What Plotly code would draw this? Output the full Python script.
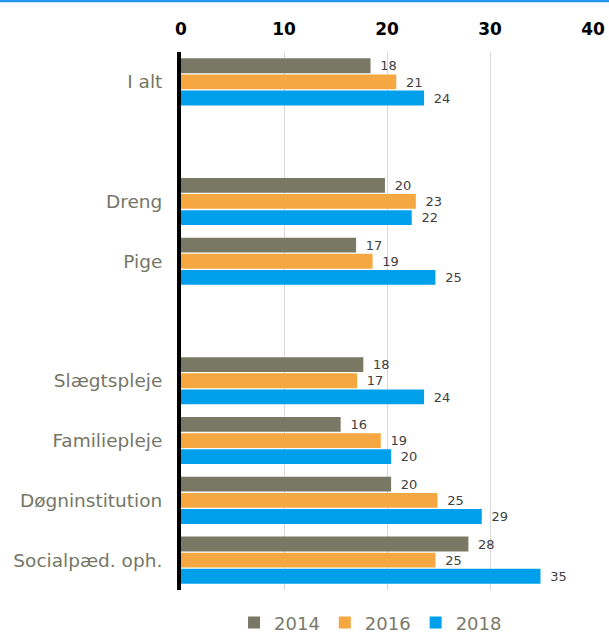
import plotly.graph_objects as go

categories = ["I alt", "Dreng", "Pige", "Slægtspleje", "Familiepleje", "Døgninstitution", "Socialpæd. oph."]
slots = ["I alt", " ", "Dreng", "Pige", "  ", "Slægtspleje", "Familiepleje", "Døgninstitution", "Socialpæd. oph."]
years = ["2014", "2016", "2018"]
v2014 = [18.4, 19.8, 17.0, 17.7, 15.5, 20.4, 27.9]
v2016 = [20.9, 22.8, 18.6, 17.1, 19.4, 24.9, 24.7]
v2018 = [23.6, 22.4, 24.7, 23.6, 20.4, 29.2, 34.9]
colors = ["#787865", "#F5A742", "#009FEC"]
x_ticks = [0, 10, 20, 30, 40]

fig = go.Figure()
for name, vals, col in zip(years, [v2014, v2016, v2018], colors):
    fig.add_trace(go.Bar(
        y=categories, x=vals, name=name, orientation="h",
        marker=dict(color=col, line=dict(width=0)),
        texttemplate="\u00a0\u2009%{x:.0f}", textposition="outside",
        textfont=dict(family="DejaVu Sans", size=14, color="#404040"),
        cliponaxis=False,
    ))

fig.update_layout(
    width=609, height=633,
    margin=dict(l=181, r=16, t=52, b=43, autoexpand=False),
    paper_bgcolor="white", plot_bgcolor="white",
    barmode="group", bargap=0.19, bargroupgap=0.08,
    showlegend=True,
    legend=dict(orientation="h", x=0.46, xanchor="center", y=-0.061, yanchor="middle",
                font=dict(family="DejaVu Sans", size=18, color="#7a7a6a"),
                itemwidth=30, tracegroupgap=0),
    xaxis=dict(side="top", range=[0, 40], tickvals=x_ticks, automargin=False,
               tickfont=dict(family="DejaVu Sans", size=17, color="black", weight="bold"),
               showgrid=True, gridcolor="#d9d9d9", gridwidth=1, zeroline=False,
               showline=False, ticks="outside", ticklen=9, tickcolor="white"),
    yaxis=dict(type="category", categoryorder="array", categoryarray=slots,
               range=[len(slots) - 0.5, -0.5], automargin=False,
               tickfont=dict(family="DejaVu Sans", size=18.5, color="#767667"),
               showline=True, linecolor="black", linewidth=4,
               ticks="outside", ticklen=11, tickcolor="white", showgrid=False),
    font=dict(family="DejaVu Sans"),
)
fig.add_shape(type="line", xref="paper", yref="paper", x0=-0.5, x1=1.1, y0=1.095, y1=1.095,
              line=dict(color="#2196F0", width=2.5))
fig.write_html("out.html", config={"displayModeBar": False},
               post_script="document.body.style.margin='0';document.body.style.padding='0';")
